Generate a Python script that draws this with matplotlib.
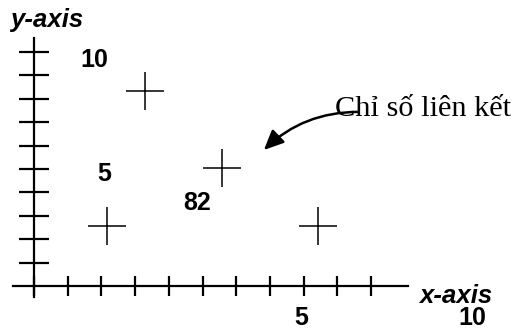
import numpy as np
import matplotlib
matplotlib.use("Agg")
import matplotlib.pyplot as plt

# crosses (data units, one tick = one unit)
point_x = [3.29, 5.58, 2.17, 8.43]
point_y = [8.33, 5.04, 2.56, 2.56]

x_ticks = list(range(0, 11))
y_ticks = list(range(1, 11))

# loose bold number labels: (text, x, y)
num_labels = ["10", "5", "82", "5", "10"]
num_x = [1.80, 2.08, 4.85, 7.93, 12.99]
num_y = [9.66, 4.79, 3.55, -1.37, -1.37]

note_text = "Chỉ số liên kết"

fig = plt.figure(figsize=(5.15, 3.33), dpi=100)
ax = fig.add_axes([0, 0, 1, 1])
ax.set_xlim(-1.009, 14.27)
ax.set_ylim(-2.01, 12.22)
ax.patch.set_visible(False)

for s in ["top", "right"]:
    ax.spines[s].set_visible(False)
ax.spines["left"].set_position(("data", 0))
ax.spines["bottom"].set_position(("data", 0))
ax.spines["left"].set_bounds(-0.47, 10.6)
ax.spines["bottom"].set_bounds(-0.62, 11.1)
for s in ["left", "bottom"]:
    ax.spines[s].set_linewidth(1.6)
    ax.spines[s].set_color("black")

ax.set_xticks(x_ticks)
ax.set_yticks(y_ticks)
ax.set_xticklabels([])
ax.set_yticklabels([])
ax.tick_params(axis="x", direction="inout", length=15, width=1.6)
ax.tick_params(axis="y", direction="inout", length=21.5, width=1.6)

# crosses
ax.plot(point_x, point_y, linestyle="none", marker="+", markersize=27,
        markeredgewidth=1.1, color="black")

for t, x, y in zip(num_labels, num_x, num_y):
    ax.text(x, y, t, fontsize=18, fontweight="bold", family="Liberation Sans",
            ha="center", va="center")

ax.text(-0.71, 11.37, "y-axis", fontsize=18.5, fontweight="bold", style="italic",
        family="Liberation Sans", ha="left", va="center")
ax.text(12.51, -0.41, "x-axis", fontsize=18.5, fontweight="bold", style="italic",
        family="Liberation Sans", ha="center", va="center")

ax.annotate(note_text, xy=(6.82, 5.81), xytext=(8.93, 7.55),
            fontsize=21.8, family=["Liberation Serif", "DejaVu Serif"],
            ha="left", va="center",
            arrowprops=dict(arrowstyle="-|>,head_length=0.55,head_width=0.25",
                            connectionstyle="arc3,rad=0.2", color="black",
                            lw=1.8, shrinkA=0, shrinkB=0,
                            patchA=None, relpos=(0.13, 0.40)))

fig.savefig("out.png", dpi=100)
